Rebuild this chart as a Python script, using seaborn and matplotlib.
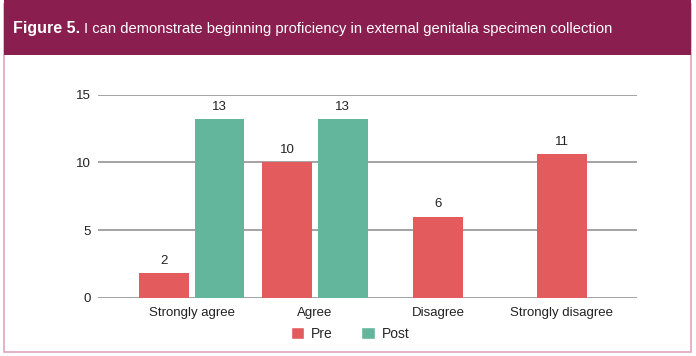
import numpy as np
import pandas as pd
import matplotlib
matplotlib.use('Agg')
import matplotlib.pyplot as plt
from matplotlib.patches import Rectangle
import seaborn as sns

categories = ['Strongly agree', 'Agree', 'Disagree', 'Strongly disagree']
# bar heights, printed labels as shown above the bars
pre_vals = [1.8, 10.0, 6.0, 10.6]
post_vals = [13.2, 13.2, np.nan, np.nan]
pre_labels = ['2', '10', '6', '11']
post_labels = ['13', '13', '', '']
y_ticks = [0, 5, 10, 15]

RED = '#E35B5C'
GREEN = '#63B69B'
MAGENTA = '#8A1F4F'
BORDER = '#E2A6BE'

df = pd.DataFrame({
    'Response': categories * 2,
    'Group': ['Pre'] * 4 + ['Post'] * 4,
    'Count': pre_vals + post_vals,
})

sns.set_theme(style='white')
plt.rcParams['font.family'] = ['Liberation Sans', 'DejaVu Sans']

fig = plt.figure(figsize=(6.96, 3.56), dpi=100)

# frame and header band
fig.patches.append(Rectangle((4 / 696, 4 / 356), 687 / 696, 348 / 356, transform=fig.transFigure,
                             facecolor='white', edgecolor=BORDER, linewidth=1.2, zorder=-2))
fig.patches.append(Rectangle((4 / 696, 1 - 55 / 356), 687 / 696, 55 / 356, transform=fig.transFigure,
                             facecolor=MAGENTA, edgecolor='none', zorder=-1))

ax = fig.add_axes([98 / 696, 1 - 297.7 / 356, 539 / 696, 203 / 356])
ax.set_zorder(2)
sns.barplot(data=df, x='Response', y='Count', hue='Group', order=categories,
            hue_order=['Pre', 'Post'], palette=[RED, GREEN], width=0.9, gap=0.1,
            saturation=1, linewidth=0, ax=ax, legend=False, zorder=3)

# bars with no Post partner sit centred on their category
pre_bars = ax.patches[:4]
post_bars = ax.patches[4:8]
for i, pb in enumerate(pre_bars):
    if np.isnan(post_vals[i]):
        pb.set_x(i - pb.get_width() / 2)

for pb, lab in zip(pre_bars, pre_labels):
    ax.text(pb.get_x() + pb.get_width() / 2, pb.get_height() + 0.45, lab,
            ha='center', va='bottom', fontsize=9.5, color='#222222')
for qb, lab in zip(post_bars, post_labels):
    if lab:
        ax.text(qb.get_x() + qb.get_width() / 2, qb.get_height() + 0.45, lab,
                ha='center', va='bottom', fontsize=9.5, color='#222222')

ax.set_ylim(0, 15)
ax.set_xlim(-0.76, 3.61)
ax.set_yticks(y_ticks)
ax.set_yticklabels([str(t) for t in y_ticks])
for t in y_ticks:
    ax.axhline(t, color='#8a8a8a', linewidth=1.1, zorder=1)
for s in ax.spines.values():
    s.set_visible(False)
ax.set_xlabel('')
ax.set_ylabel('')
ax.tick_params(axis='both', length=0, labelsize=9.5, colors='#222222')
ax.tick_params(axis='y', pad=5)
ax.tick_params(axis='x', pad=7)
ax.set_facecolor('none')

# legend
handles = [Rectangle((0, 0), 1, 1, facecolor=RED), Rectangle((0, 0), 1, 1, facecolor=GREEN)]
fig.legend(handles, ['Pre', 'Post'], loc='center', bbox_to_anchor=(350 / 696, 1 - 334 / 356),
           ncol=2, frameon=False, fontsize=10, handlelength=1.0, handleheight=1.0,
           handletextpad=0.5, columnspacing=2.0)

# title in the header band
t1 = fig.text(13 / 696, 1 - 29 / 356, 'Figure 5.', color='white', fontsize=11.5,
              fontweight='bold', va='center', ha='left')
fig.canvas.draw()
bb = t1.get_window_extent()
fig.text((bb.x1 + 4) / 696, 1 - 29 / 356,
         'I can demonstrate beginning proficiency in external genitalia specimen collection',
         color='white', fontsize=10.6, va='center', ha='left')

fig.savefig('out.png', dpi=100)
